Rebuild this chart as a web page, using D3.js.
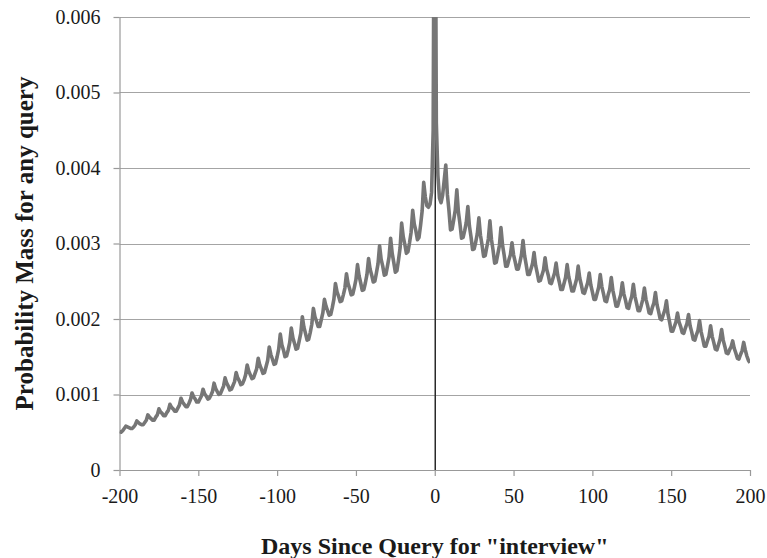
<!DOCTYPE html>
<html>
<head>
<meta charset="utf-8">
<script src="https://cdn.jsdelivr.net/npm/d3@7"></script>
<style>
	body{margin:0;background:#fff;}
	svg{display:block;}
</style>
</head>
<body>
<div id="mass_div"></div>
<script>

////////////////////////////////////////
////////////////////////////////////////
////////////////////////////////////////

var mass_w = 767;
var mass_h = 558;
var margin = {top:17,right:17,bottom:88,left:119.5};

// days -200 .. 200, one value per day
var mass_days = d3.range(-200,201);

var mass_left = [
	.00051,.00050,.00052,.00055,
	.00058,.00057,.00056,.00055,.00055,.00057,.00060,
	.00065,.00063,.00061,.00060,.00060,.00063,.00066,
	.00073,.00070,.00068,.00066,.00066,.00070,.00073,
	.00081,.00077,.00075,.00072,.00072,.00076,.00079,
	.00087,.00083,.00081,.00078,.00078,.00082,.00086,
	.00095,.00090,.00087,.00084,.00084,.00088,.00093,
	.00102,.00097,.00094,.00090,.00090,.00094,.00098,
	.00107,.00101,.00098,.00094,.00095,.00099,.00104,
	.00115,.00108,.00104,.00100,.00101,.00106,.00111,
	.00122,.00115,.00111,.00106,.00107,.00112,.00117,
	.00129,.00122,.00118,.00113,.00114,.00119,.00126,
	.00139,.00131,.00126,.00121,.00122,.00128,.00134,
	.00148,.00139,.00134,.00128,.00129,.00137,.00145,
	.00163,.00153,.00147,.00140,.00141,.00150,.00160,
	.00180,.00166,.00159,.00150,.00151,.00159,.00169,
	.00188,.00175,.00168,.00160,.00161,.00171,.00181,
	.00203,.00189,.00181,.00172,.00173,.00182,.00193,
	.00214,.00203,.00197,.00190,.00190,.00199,.00208,
	.00226,.00217,.00211,.00205,.00206,.00215,.00226,
	.00247,.00236,.00230,.00223,.00224,.00232,.00241,
	.00260,.00247,.00240,.00232,.00233,.00242,.00252,
	.00272,.00257,.00248,.00238,.00239,.00248,.00259,
	.00280,.00266,.00258,.00249,.00250,.00261,.00273,
	.00297,.00279,.00270,.00258,.00259,.00270,.00282,
	.00307,.00287,.00275,.00262,.00264,.00278,.00294,
	.00327,.00309,.00299,.00287,.00289,.00301,.00315,
	.00344,.00326,.00317,.00305,.00308,.00324,.00343,
	.00381,.00362,.00350,.00348,.00352,.00368,.00450
];

var mass_center = [.01000];

var mass_right = [
	.00460,.00390,.00360,.00354,.00364,.00384,
	.00404,.00365,.00344,.00318,.00319,.00331,.00344,
	.00371,.00342,.00326,.00307,.00308,.00317,.00328,
	.00349,.00323,.00309,.00292,.00293,.00302,.00313,
	.00334,.00311,.00298,.00283,.00284,.00295,.00306,
	.00330,.00305,.00291,.00274,.00275,.00286,.00297,
	.00321,.00298,.00285,.00270,.00270,.00278,.00285,
	.00301,.00285,.00276,.00266,.00266,.00275,.00285,
	.00304,.00284,.00272,.00259,.00259,.00266,.00273,
	.00288,.00271,.00261,.00250,.00251,.00258,.00265,
	.00281,.00266,.00258,.00248,.00247,.00254,.00261,
	.00274,.00258,.00249,.00239,.00239,.00247,.00255,
	.00272,.00256,.00247,.00237,.00237,.00245,.00253,
	.00270,.00254,.00245,.00235,.00234,.00241,.00248,
	.00261,.00245,.00236,.00226,.00226,.00234,.00242,
	.00259,.00243,.00234,.00224,.00223,.00232,.00239,
	.00255,.00238,.00228,.00217,.00217,.00225,.00232,
	.00248,.00233,.00225,.00215,.00214,.00223,.00230,
	.00246,.00230,.00221,.00211,.00211,.00218,.00226,
	.00241,.00226,.00218,.00208,.00207,.00215,.00221,
	.00235,.00219,.00210,.00200,.00199,.00206,.00212,
	.00224,.00206,.00196,.00184,.00184,.00190,.00196,
	.00208,.00196,.00190,.00182,.00181,.00188,.00194,
	.00206,.00191,.00183,.00173,.00172,.00179,.00185,
	.00198,.00183,.00174,.00164,.00164,.00171,.00177,
	.00191,.00177,.00169,.00160,.00159,.00166,.00173,
	.00186,.00172,.00164,.00155,.00154,.00159,.00163,
	.00171,.00161,.00155,.00148,.00147,.00153,.00158,
	.00169,.00159,.00151,.00145,.00142
];

var mass_values = mass_left.concat(mass_center,mass_right);

var mass_yTicks = [0,0.001,0.002,0.003,0.004,0.005,0.006];
var mass_xTicks = [-200,-150,-100,-50,0,50,100,150,200];

var mass_xTitle = 'Days Since Query for "interview"';
var mass_yTitle = 'Probability Mass for any query';

////////////////////////////////////////
////////////////////////////////////////
////////////////////////////////////////

var mass_data = mass_days.map(function(d,i){
	return {'day':d,'value':mass_values[i]};
});

var plot_w = 750-margin.left;
var plot_h = 470-margin.top;
var serif = '"Liberation Serif", "Times New Roman", serif';

var mass_vis = d3.select('#mass_div')
	.append('svg')
	.attr('width',mass_w)
	.attr('height',mass_h)
	.attr('id','mass_svg');

var x = d3.scaleLinear()
	.domain([-200,200])
	.range([0,plot_w]);

var y = d3.scaleLinear()
	.domain([0,0.006])
	.range([plot_h,0]);

var g = mass_vis.append('g')
	.attr('transform','translate('+margin.left+','+margin.top+')');

g.append('clipPath')
	.attr('id','plot_clip')
	.append('rect')
		.attr('x',0)
		.attr('y',0)
		.attr('width',plot_w)
		.attr('height',plot_h);

////////////////////////////////////////
////////////////////////////////////////
////////////////////////////////////////

g.selectAll('line.grid')
	.data(mass_yTicks.slice(1))
	.enter()
		.append('line')
		.attr('class','grid')
		.attr('x1',0)
		.attr('x2',plot_w)
		.attr('y1',function(d){ return Math.round(y(d))+0.5; })
		.attr('y2',function(d){ return Math.round(y(d))+0.5; })
		.attr('stroke','#a4a4a4')
		.attr('stroke-width',1.2);

var yAxis = g.append('g')
	.attr('class','y_axis')
	.call(d3.axisLeft(y)
		.tickValues(mass_yTicks)
		.tickSize(6)
		.tickPadding(13)
		.tickFormat(function(d){
			if(d===0) return '0';
			return d3.format('.3f')(d);
		}));

var xAxis = g.append('g')
	.attr('class','x_axis')
	.attr('transform','translate(0,'+plot_h+')')
	.call(d3.axisBottom(x)
		.tickValues(mass_xTicks)
		.tickSize(6)
		.tickPadding(13)
		.tickFormat(function(d){
			// plain hyphen like the original, not the unicode minus
			return String(d);
		}));

g.selectAll('.domain, .tick line')
	.attr('stroke','#999999')
	.attr('stroke-width',1.2);

g.selectAll('.tick text')
	.attr('fill','#1a1a1a')
	.attr('font-family',serif)
	.attr('font-size',20);

// the outer ticks of d3 stick out past the axis ends, hide them
yAxis.select('.domain').attr('d','M0.5,0V'+plot_h);
xAxis.select('.domain').attr('d','M0,0.5H'+plot_w);

////////////////////////////////////////
////////////////////////////////////////
////////////////////////////////////////

g.append('line')
	.attr('class','zero_line')
	.attr('x1',x(0)+0.5)
	.attr('x2',x(0)+0.5)
	.attr('y1',0)
	.attr('y2',plot_h)
	.attr('stroke','#2a2a2a')
	.attr('stroke-width',1.5);

var mass_line = d3.line()
	.x(function(d){ return x(d.day); })
	.y(function(d){ return y(d.value); });

g.append('path')
	.datum(mass_data)
	.attr('class','mass_path')
	.attr('clip-path','url(#plot_clip)')
	.attr('d',mass_line)
	.attr('fill','none')
	.attr('stroke','#767676')
	.attr('stroke-width',3.6)
	.attr('stroke-linejoin','round');

////////////////////////////////////////
////////////////////////////////////////
////////////////////////////////////////

mass_vis.append('text')
	.attr('class','x_title')
	.attr('x',margin.left+plot_w/2)
	.attr('y',554)
	.attr('text-anchor','middle')
	.attr('font-family',serif)
	.attr('font-weight','bold')
	.attr('font-size',24)
	.attr('fill','#1a1a1a')
	.text(mass_xTitle);

mass_vis.append('text')
	.attr('class','y_title')
	.attr('transform','translate(33,'+(margin.top+plot_h/2)+') rotate(-90)')
	.attr('text-anchor','middle')
	.attr('font-family',serif)
	.attr('font-weight','bold')
	.attr('font-size',25)
	.attr('fill','#1a1a1a')
	.text(mass_yTitle);

</script>
</body>
</html>
